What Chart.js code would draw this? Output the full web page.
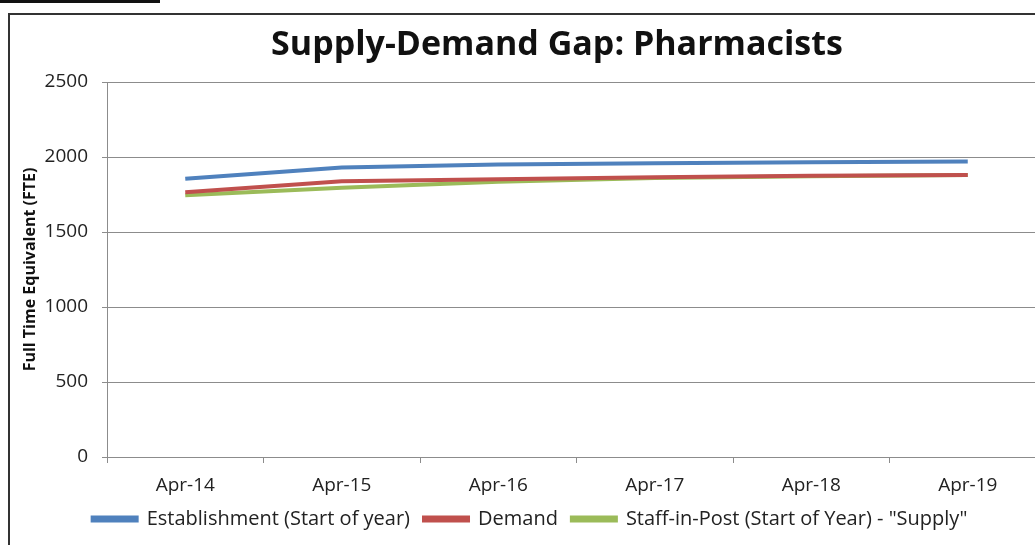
<!DOCTYPE html>
<html>
<head>
<meta charset="utf-8">
<script src="https://cdn.jsdelivr.net/npm/chart.js@4.4.1/dist/chart.umd.min.js"></script>
<style>
  html, body { margin: 0; padding: 0; background: #fff; overflow: hidden; }
  body { width: 1035px; height: 545px; position: relative; font-family: 'Open Sans', 'DejaVu Sans', sans-serif; }
  .topbar { position: absolute; left: 0; top: 0; width: 160px; height: 3px; background: #111; }
  .frame { position: absolute; left: 8px; top: 13px; width: 1100px; height: 600px; border: 2px solid #333; }
  .wrap { position: absolute; left: 0; top: 0; width: 1060px; height: 545px; }
  .title {
    position: absolute; left: 357px; top: 21px; width: 400px;
    text-align: center; white-space: nowrap;
    font-size: 34px; font-weight: bold; color: #111; line-height: 42px;
  }
</style>
</head>
<body>
<div class="topbar"></div>
<div class="frame"></div>
<div class="wrap"><canvas id="gapChart"></canvas></div>
<div class="title"><span style="display:inline-block;margin:0 -200px">Supply-Demand Gap: Pharmacists</span></div>
<script>
const periods = ["Apr-14", "Apr-15", "Apr-16", "Apr-17", "Apr-18", "Apr-19"];
const establishment = [1855, 1930, 1950, 1958, 1965, 1970];
const demand = [1765, 1838, 1852, 1865, 1875, 1880];
const supply = [1745, 1795, 1835, 1860, 1872, 1880];

const fontFamily = "'Open Sans', 'DejaVu Sans', sans-serif";
const axisGrey = "#8c8c8c";

const ctx = document.getElementById("gapChart");

new Chart(ctx.getContext("2d"), {
  type: "line",
  data: {
    labels: periods,
    datasets: [
      {
        label: "Establishment (Start of year)",
        data: establishment,
        borderColor: "#4f81bd",
        backgroundColor: "#4f81bd",
        borderWidth: 4,
        pointRadius: 0,
        tension: 0,
      },
      {
        label: "Demand",
        data: demand,
        borderColor: "#c0504d",
        backgroundColor: "#c0504d",
        borderWidth: 4,
        pointRadius: 0,
        tension: 0,
      },
      {
        label: "Staff-in-Post (Start of Year) - \"Supply\"",
        data: supply,
        borderColor: "#9bbb59",
        backgroundColor: "#9bbb59",
        borderWidth: 4,
        pointRadius: 0,
        tension: 0,
      },
    ],
  },
  options: {
    responsive: true,
    maintainAspectRatio: false,
    animation: false,
    layout: { padding: { left: 14, right: 14, top: 82, bottom: 6 } },
    plugins: {
      tooltip: { enabled: false },
      title: { display: false },
      legend: {
        position: "bottom",
        labels: {
          color: "#222",
          font: { family: fontFamily, size: 20 },
          boxWidth: 44,
          boxHeight: 3,
          padding: 14,
        },
      },
    },
    scales: {
      x: {
        offset: true,
        afterFit: (scale) => {
          scale.height = 38;
        },
        grid: {
          display: true,
          offset: true,
          drawOnChartArea: false,
          drawTicks: true,
          tickLength: 6,
          color: axisGrey,
        },
        border: { color: axisGrey, width: 1 },
        ticks: {
          color: "#222",
          padding: 11,
          maxRotation: 0,
          font: { family: fontFamily, size: 19 },
        },
      },
      y: {
        min: 0,
        max: 2500,
        afterFit: (scale) => {
          scale.width = 93;
        },
        grid: {
          color: axisGrey,
          drawTicks: true,
          tickLength: 5,
        },
        border: { color: axisGrey, width: 1 },
        ticks: {
          stepSize: 500,
          color: "#222",
          padding: 14,
          font: { family: fontFamily, size: 19 },
          callback: (value) => String(value),
        },
        title: {
          display: true,
          text: "Full Time Equivalent (FTE)",
          color: "#111",
          font: { family: fontFamily, size: 16, weight: "bold" },
          padding: { top: 7, bottom: 0 },
        },
      },
    },
  },
});
</script>
</body>
</html>
